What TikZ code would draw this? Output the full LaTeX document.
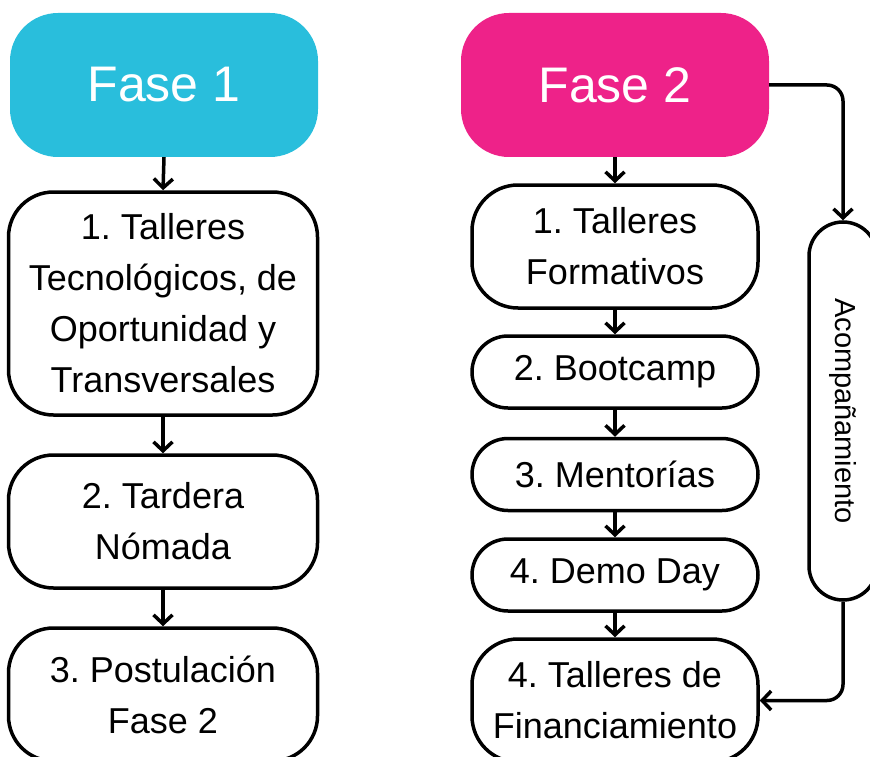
\documentclass[tikz,border=0pt]{standalone}
\usepackage{fontspec}
\setmainfont{Liberation Sans}
\usepackage{xcolor}
\usetikzlibrary{arrows.meta,positioning}
\definecolor{faseuno}{HTML}{29BEDC}
\definecolor{fasedos}{HTML}{EE2289}
\frenchspacing

\begin{document}
\begin{tikzpicture}[
    x=1pt, y=1pt,
    fasebox/.style={
        rectangle, rounded corners=48pt,
        minimum width=308pt,    minimum height=144pt,
        inner sep=0pt,
        text=white,
        font=\fontsize{50}{60}\selectfont
    },
    pasobox/.style={
        rectangle, rounded corners=45pt,
        minimum width=309pt,
        align=center, inner sep=0pt,
        draw=black,
        line width=3.5pt,
        fill=white,
        font=\fontsize{36}{51}\selectfont
    },
    pildora/.style={
        pasobox,
        minimum width=286pt,    minimum height=72pt,
        rounded corners=36pt
    },
    mainarrow/.style={line width=3.5pt, -{Straight Barb[length=9pt,width=19pt]}},
    sidearrow/.style={mainarrow, rounded corners=16pt}
]

\useasboundingbox (0,0) rectangle (870,-757);

\node[fasebox, fill=faseuno] (fase1) at (164,-85) {Fase 1};

\node[pasobox, minimum height=223pt] (taller1) at (163,-303.5) {1. Talleres\\Tecnológicos, de\\Oportunidad y\\Transversales};
\node[pasobox, minimum height=133pt] (tardera) at (163,-521.5) {2. Tardera\\Nómada};
\node[pasobox, minimum height=133pt] (postula) at (163,-694.5) {3. Postulación\\Fase 2};

\draw[mainarrow] (fase1.south) -- (taller1.north);
\draw[mainarrow] (taller1.south) -- (tardera.north);
\draw[mainarrow] (tardera.south) -- (postula.north);

\node[fasebox, fill=fasedos] (fase2) at (615,-85) {Fase 2};

\node[pildora, minimum height=123pt, rounded corners=46pt] (formativo) at (615,-246.5) {1. Talleres\\Formativos};
\node[pildora] (bootcamp) at (615,-372) {2. Bootcamp};
\node[pildora] (mentoria) at (615,-474.5) {3. Mentorías};
\node[pildora] (demoday) at (615,-575) {4. Demo Day};
\node[pildora, minimum height=123pt, rounded corners=46pt] (financia) at (615,-700.5) {4. Talleres de\\Financiamiento};

\draw[mainarrow] (fase2.south) -- (formativo.north);
\draw[mainarrow] (formativo.south) -- (bootcamp.north);
\draw[mainarrow] (bootcamp.south) -- (mentoria.north);
\draw[mainarrow] (mentoria.south) -- (demoday.north);
\draw[mainarrow] (demoday.south) -- (financia.north);

% rotated node: west is the top, east is the bottom
\node[pasobox, rotate=-90,
      minimum width=378pt, minimum height=68pt, rounded corners=34pt,
      font=\fontsize{29}{35}\selectfont]
    (acompana) at (843,-411) {Acompañamiento};

\draw[sidearrow] (fase2.east) -| (acompana.west);
\draw[sidearrow] (acompana.east) |- (financia.east);

\end{tikzpicture}
\end{document}
